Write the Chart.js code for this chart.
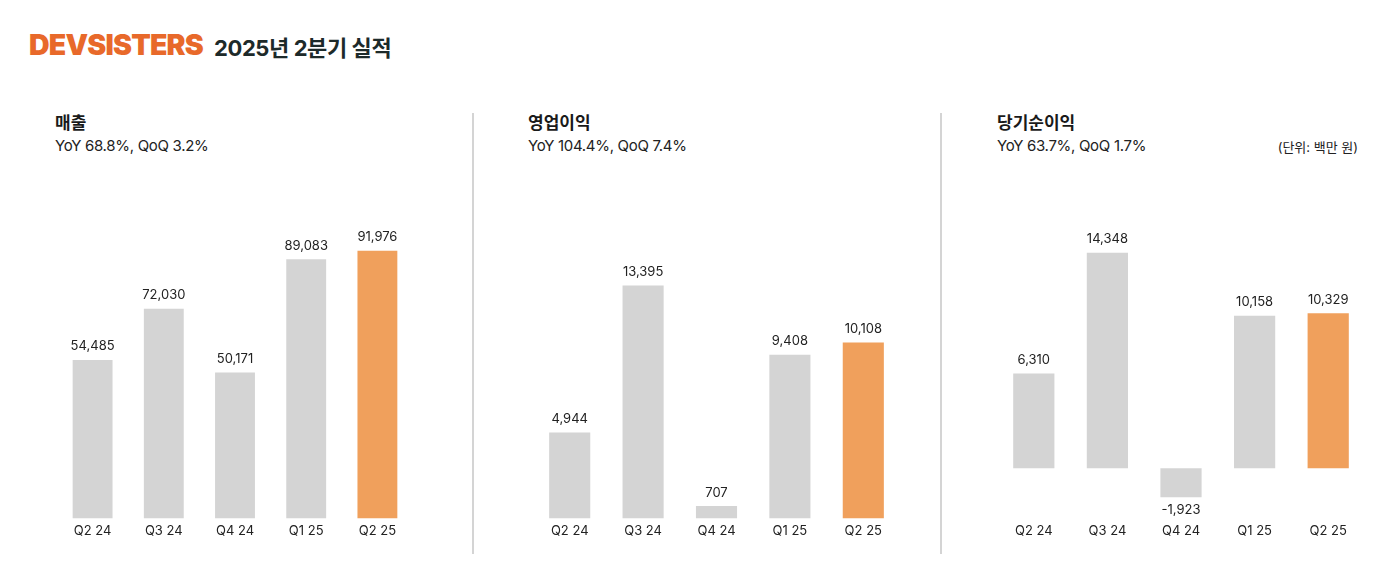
<!DOCTYPE html>
<html>
<head>
<meta charset="utf-8">
<script src="https://cdn.jsdelivr.net/npm/chart.js@4.4.1/dist/chart.umd.min.js"></script>
<style>
  html, body { margin: 0; padding: 0; background: #fff; }
  body { width: 1400px; height: 588px; position: relative; overflow: hidden;
         font-family: Inter, "Noto Sans CJK KR", sans-serif; color: #1f1f1f; }
  .logo { position: absolute; left: 29px; top: 27px; font-size: 28.5px; font-weight: 900;
          color: #E8692A; letter-spacing: -0.8px; }
  .head { position: absolute; left: 214px; top: 30px; font-size: 22px; font-weight: 700;
          color: #1d2a2a; letter-spacing: -0.4px; }
  .title { position: absolute; top: 109px; font-size: 17px; font-weight: 700; color: #1a1a1a; }
  .sub { position: absolute; top: 136px; font-size: 15px; color: #222; letter-spacing: -0.3px; }
  .unit { position: absolute; top: 137px; right: 42px; font-size: 13px; color: #222; }
  .divider { position: absolute; top: 113px; width: 2px; height: 441px; background: #d4d4d4; }
  .box { position: absolute; top: 194px; height: 350px; }
</style>
</head>
<body>
<div class="logo">DEVSISTERS</div>
<div class="head">2025년 2분기 실적</div>

<div class="title" style="left:55px">매출</div>
<div class="sub" style="left:55px">YoY 68.8%, QoQ 3.2%</div>
<div class="divider" style="left:472px"></div>
<div class="title" style="left:528px">영업이익</div>
<div class="sub" style="left:528px">YoY 104.4%, QoQ 7.4%</div>
<div class="divider" style="left:940px"></div>
<div class="title" style="left:997px">당기순이익</div>
<div class="sub" style="left:997px">YoY 63.7%, QoQ 1.7%</div>
<div class="unit">(단위: 백만 원)</div>

<div class="box" style="left:57px;width:356px"><canvas id="revenue"></canvas></div>
<div class="box" style="left:533px;width:367px"><canvas id="opProfit"></canvas></div>
<div class="box" style="left:997px;width:368px"><canvas id="netProfit"></canvas></div>

<script>
var quarters = ['Q2 24', 'Q3 24', 'Q4 24', 'Q1 25', 'Q2 25'];
var revenue = [54485, 72030, 50171, 89083, 91976];
var operatingProfit = [4944, 13395, 707, 9408, 10108];
var netProfit = [6310, 14348, -1923, 10158, 10329];

var gray = '#D4D4D4';
var orange = '#F0A05C';

// numbers above (or below) each bar
var valueLabels = {
    id: 'valueLabels',
    afterDatasetsDraw: function (chart) {
        var ctx = chart.ctx;
        var meta = chart.getDatasetMeta(0);
        var values = chart.data.datasets[0].data;
        ctx.save();
        ctx.font = '13px Inter, "Noto Sans CJK KR", sans-serif';
        ctx.fillStyle = '#222';
        ctx.textAlign = 'center';
        meta.data.forEach(function (bar, i) {
            var v = values[i];
            var txt = v.toLocaleString('en-US');
            if (v >= 0) {
                ctx.textBaseline = 'bottom';
                ctx.fillText(txt, bar.x, bar.y - 7);
            } else {
                ctx.textBaseline = 'top';
                ctx.fillText(txt, bar.x, bar.y + 6);
            }
        });
        ctx.restore();
    }
};

function makeChart(id, values, yMin, yMax) {
    var colors = values.map(function (v, i) {
        return i === values.length - 1 ? orange : gray;
    });
    return new Chart(document.getElementById(id), {
        type: 'bar',
        data: {
            labels: quarters,
            datasets: [{
                data: values,
                backgroundColor: colors,
                borderWidth: 0,
                barPercentage: 0.56,
                categoryPercentage: 1
            }]
        },
        options: {
            responsive: true,
            maintainAspectRatio: false,
            animation: false,
            layout: { padding: 0 },
            plugins: { legend: { display: false }, tooltip: { enabled: false } },
            scales: {
                x: {
                    grid: { display: false, drawTicks: false },
                    border: { display: false },
                    ticks: {
                        padding: 5,
                        color: '#222',
                        font: { size: 13, family: 'Inter, "Noto Sans CJK KR", sans-serif' }
                    }
                },
                y: {
                    display: false,
                    min: yMin,
                    max: yMax
                }
            }
        },
        plugins: [valueLabels]
    });
}

makeChart('revenue', revenue, 0, 111500);
makeChart('opProfit', operatingProfit, 0, 18650);
makeChart('netProfit', netProfit, -3330, 18260);
</script>
</body>
</html>
